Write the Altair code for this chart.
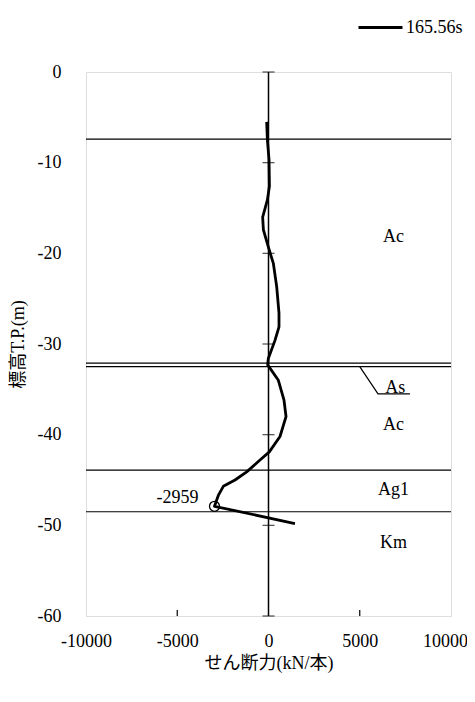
import altair as alt
import pandas as pd

FONT = "'Liberation Serif', 'Times New Roman', 'Noto Sans CJK JP', serif"

# ---- data ----
series_name = "165.56s"
shear = [-100, -60, 30, 50, -60, -320, -280, -10, 265, 450, 575, 575, 355, -10,
         -45, 540, 850, 960, 630, 45, -465, -1195, -1835, -2475, -2750, -2959, 1450]
elev = [-5.5, -7.5, -9.7, -12.6, -14.1, -16.0, -17.4, -19.3, -21.1, -23.7, -26.6, -28.1,
        -29.6, -31.6, -32.3, -34.0, -36.2, -38.0, -40.2, -41.9, -42.8, -44.1, -45.0,
        -45.7, -46.7, -47.9, -49.8]

boundaries = [-7.4, -32.1, -32.5, -43.9, -48.5]

layer_names = ["Ac", "As", "Ac", "Ag1", "Km"]
layer_x = [6850, 6950, 6850, 6850, 6850]
layer_y = [-18.2, -34.85, -38.9, -46.1, -51.9]

leader_x = [5000, 6000, 7750]
leader_y = [-32.5, -35.5, -35.5]

peak_value = [-2959]
peak_elev = [-47.9]
peak_label = ["-2959"]

x_ticks = [-10000, -5000, 0, 5000, 10000]
x_inner_ticks = [-5000, 5000]
y_ticks = [0, -10, -20, -30, -40, -50, -60]

W, H = 365, 544

df_curve = pd.DataFrame({"shear": shear, "elev": elev, "idx": range(len(shear)),
                         "series": series_name})
df_bound = pd.DataFrame({"elev": boundaries})
df_layers = pd.DataFrame({"name": layer_names, "x": layer_x, "y": layer_y})
df_leader = pd.DataFrame({"x": leader_x, "y": leader_y, "idx": range(len(leader_x))})
df_peak = pd.DataFrame({"shear": peak_value, "elev": peak_elev, "label": peak_label})
df_xt = pd.DataFrame({"x": x_inner_ticks})
df_yt = pd.DataFrame({"y": y_ticks})

x_scale = alt.Scale(domain=[-10000, 10000], nice=False, zero=False)
y_scale = alt.Scale(domain=[-60, 0], nice=False, zero=False)

x_axis = alt.Axis(values=x_ticks, title="せん断力(kN/本)", grid=False, ticks=False,
                  domain=False, labelFlush=False, labelPadding=16, labelFontSize=18,
                  labelExpr="'' + datum.value",
                  labelOffset={"condition": {"test": "datum.value == 10000", "value": -6},
                               "value": 0},
                  labelFont=FONT, labelColor="black", titleFont=FONT, titleFontSize=18,
                  titleFontWeight="normal", titleColor="black", titleX=W / 2, titleY=47,
                  titleBaseline="middle", titleAlign="center")
y_axis = alt.Axis(values=y_ticks, title="標高T.P.(m)", grid=False, ticks=False,
                  domain=False, labelFlush=False, labelPadding=25, labelFontSize=18,
                  labelExpr="'' + datum.value",
                  labelFont=FONT, labelColor="black", titleFont=FONT, titleFontSize=18,
                  titleFontWeight="normal", titleColor="black", titleX=-68, titleY=H / 2,
                  titleAngle=-90, titleBaseline="middle", titleAlign="center")

bounds = alt.Chart(df_bound).mark_rule(color="black", strokeWidth=1.2).encode(
    y=alt.Y("elev:Q", scale=y_scale, axis=y_axis)
)

zero_line = alt.Chart(pd.DataFrame({"x": [0]})).mark_rule(color="black", strokeWidth=1.5).encode(
    x=alt.X("x:Q", scale=x_scale, axis=x_axis)
)

y_cross = alt.Chart(df_yt).mark_tick(orient="horizontal", size=12, thickness=1.2,
                                     color="black").encode(
    x=alt.datum(0),
    y=alt.Y("y:Q", scale=y_scale),
)

x_inner = alt.Chart(df_xt).mark_rule(color="black", strokeWidth=1.2).encode(
    x=alt.X("x:Q", scale=x_scale),
    y=alt.value(H),
    y2=alt.value(H - 6),
)

curve = alt.Chart(df_curve).mark_line(strokeWidth=2.8, strokeJoin="round").encode(
    x=alt.X("shear:Q", scale=x_scale),
    y=alt.Y("elev:Q", scale=y_scale),
    order="idx:Q",
    color=alt.Color("series:N", scale=alt.Scale(range=["black"]),
                    legend=alt.Legend(orient="none", legendX=271, legendY=-68, title=None,
                                      symbolType="stroke", symbolSize=1936,
                                      symbolStrokeWidth=2.8, labelFont=FONT,
                                      labelFontSize=18, labelColor="black",
                                      labelOffset=2)),
)

peak_pt = alt.Chart(df_peak).mark_point(shape="circle", filled=False, size=100,
                                        color="black", strokeWidth=1.3, opacity=1).encode(
    x=alt.X("shear:Q", scale=x_scale),
    y=alt.Y("elev:Q", scale=y_scale),
)

peak_txt = alt.Chart(df_peak).mark_text(align="right", dx=-16, dy=-8, font=FONT,
                                        fontSize=18, color="black").encode(
    x=alt.X("shear:Q", scale=x_scale),
    y=alt.Y("elev:Q", scale=y_scale),
    text="label:N",
)

layer_txt = alt.Chart(df_layers).mark_text(align="center", baseline="middle", font=FONT,
                                           fontSize=18, color="black").encode(
    x=alt.X("x:Q", scale=x_scale),
    y=alt.Y("y:Q", scale=y_scale),
    text="name:N",
)

leader = alt.Chart(df_leader).mark_line(color="black", strokeWidth=1.2).encode(
    x=alt.X("x:Q", scale=x_scale),
    y=alt.Y("y:Q", scale=y_scale),
    order="idx:Q",
)

chart = alt.layer(
    bounds, zero_line, y_cross, x_inner, leader, curve, peak_pt, peak_txt, layer_txt
).properties(
    width=W, height=H,
    autosize=alt.AutoSizeParams(type="none"),
    padding={"left": 78, "top": 64, "right": 16, "bottom": 70},
).configure_view(
    stroke="black", strokeWidth=1.2
).configure(background="white")

chart.save("out.html", embed_options={"renderer": "svg", "actions": False})
